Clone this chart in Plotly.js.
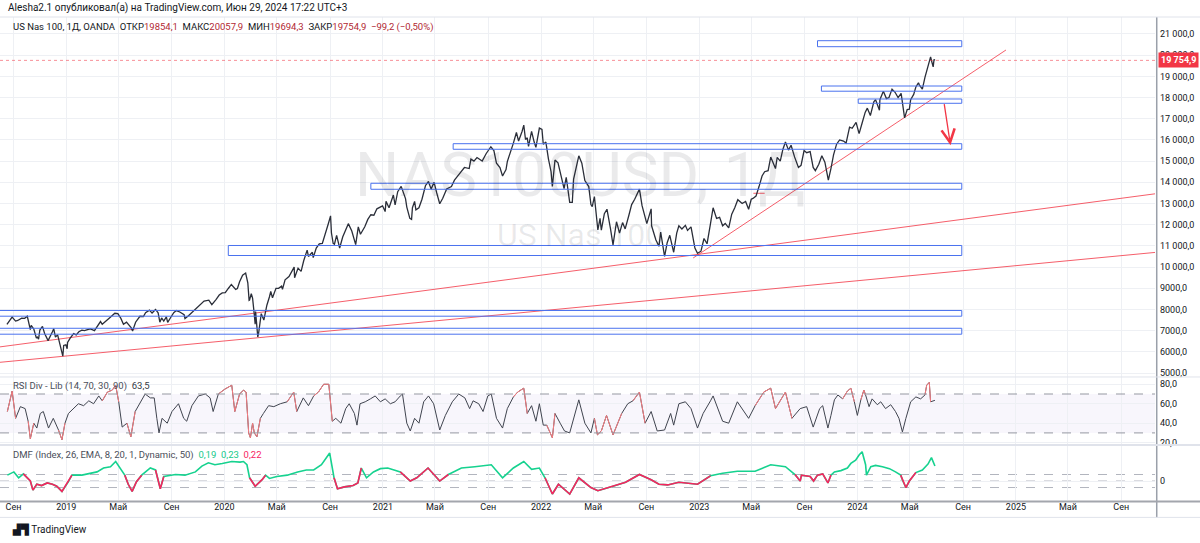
<!DOCTYPE html>
<html><head><meta charset="utf-8">
<script src="https://cdn.plot.ly/plotly-3.0.1.min.js"></script>
<style>html,body{margin:0;padding:0;background:#fff}#chart{width:1200px;height:543px}</style>
</head><body><div id="chart"></div>
<script>
// ---------- price (close) ----------
const priceDates = [
'2018-08-17','2018-08-22','2018-08-29','2018-09-06','2018-09-11','2018-09-20','2018-09-27','2018-10-03','2018-10-10','2018-10-12','2018-10-18','2018-10-24','2018-10-26','2018-10-29','2018-11-01','2018-11-07','2018-11-12','2018-11-20','2018-11-26','2018-11-30','2018-12-03','2018-12-07','2018-12-12','2018-12-18','2018-12-21','2018-12-24','2018-12-26','2018-12-31',
'2019-01-03','2019-01-04','2019-01-10','2019-01-18','2019-01-24','2019-01-30','2019-02-06','2019-02-12','2019-02-19','2019-02-26','2019-03-07','2019-03-15','2019-03-21','2019-03-25','2019-04-03','2019-04-12','2019-04-23','2019-04-30','2019-05-07','2019-05-13','2019-05-20','2019-05-31','2019-06-03','2019-06-10','2019-06-20','2019-06-28','2019-07-03','2019-07-12','2019-07-18','2019-07-26','2019-08-01','2019-08-05','2019-08-09','2019-08-14','2019-08-20','2019-08-23','2019-08-30','2019-09-06','2019-09-12','2019-09-20','2019-09-30','2019-10-02','2019-10-10','2019-10-18','2019-10-28','2019-11-06','2019-11-15','2019-11-26','2019-12-03','2019-12-13','2019-12-20','2019-12-27',
'2020-01-03','2020-01-10','2020-01-17','2020-01-27','2020-01-31','2020-02-05','2020-02-12','2020-02-19','2020-02-24','2020-02-27','2020-02-28','2020-03-03','2020-03-06','2020-03-09','2020-03-12','2020-03-13','2020-03-16','2020-03-18','2020-03-20','2020-03-24','2020-03-26','2020-04-01','2020-04-08','2020-04-14','2020-04-17','2020-04-21','2020-04-29','2020-05-05','2020-05-12','2020-05-14','2020-05-20','2020-05-29','2020-06-05','2020-06-10','2020-06-11','2020-06-19','2020-06-26','2020-07-02','2020-07-10','2020-07-13','2020-07-22','2020-07-24','2020-07-31','2020-08-07','2020-08-14','2020-08-21','2020-08-28','2020-09-02','2020-09-04','2020-09-08','2020-09-11','2020-09-16','2020-09-23','2020-09-30','2020-10-09','2020-10-13','2020-10-21','2020-10-28','2020-10-30','2020-11-05','2020-11-10','2020-11-20','2020-11-27','2020-12-04','2020-12-11','2020-12-18','2020-12-24','2020-12-31',
'2021-01-06','2021-01-08','2021-01-15','2021-01-25','2021-01-29','2021-02-04','2021-02-12','2021-02-22','2021-02-25','2021-03-04','2021-03-08','2021-03-10','2021-03-15','2021-03-18','2021-03-25','2021-04-01','2021-04-09','2021-04-16','2021-04-22','2021-04-29','2021-05-05','2021-05-12','2021-05-19','2021-05-28','2021-06-08','2021-06-15','2021-06-25','2021-07-01','2021-07-08','2021-07-19','2021-07-23','2021-07-30','2021-08-06','2021-08-18','2021-08-27','2021-09-07','2021-09-14','2021-09-20','2021-09-28','2021-10-04','2021-10-12','2021-10-15','2021-10-22','2021-10-29','2021-11-05','2021-11-10','2021-11-18','2021-11-22','2021-11-26','2021-11-30','2021-12-03','2021-12-10','2021-12-16','2021-12-20','2021-12-28',
'2022-01-03','2022-01-06','2022-01-12','2022-01-18','2022-01-24','2022-01-27','2022-02-02','2022-02-09','2022-02-14','2022-02-23','2022-02-28','2022-03-08','2022-03-14','2022-03-17','2022-03-29','2022-04-05','2022-04-12','2022-04-21','2022-04-26','2022-04-29','2022-05-04','2022-05-09','2022-05-12','2022-05-17','2022-05-20','2022-05-27','2022-06-02','2022-06-10','2022-06-16','2022-06-24','2022-07-01','2022-07-08','2022-07-14','2022-07-22','2022-07-29','2022-08-05','2022-08-16','2022-08-22','2022-08-29','2022-09-02','2022-09-12','2022-09-13','2022-09-23','2022-09-30','2022-10-04','2022-10-13','2022-10-19','2022-10-25','2022-11-03','2022-11-10','2022-11-15','2022-11-22','2022-11-30','2022-12-05','2022-12-13','2022-12-22','2022-12-28',
'2023-01-05','2023-01-12','2023-01-19','2023-01-27','2023-02-02','2023-02-10','2023-02-17','2023-02-24','2023-03-02','2023-03-10','2023-03-17','2023-03-24','2023-03-31','2023-04-10','2023-04-18','2023-04-25','2023-05-01','2023-05-05','2023-05-12','2023-05-19','2023-05-26','2023-06-01','2023-06-09','2023-06-15','2023-06-26','2023-06-30','2023-07-07','2023-07-13','2023-07-19','2023-07-26','2023-08-01','2023-08-09','2023-08-18','2023-08-24','2023-08-31','2023-09-06','2023-09-14','2023-09-21','2023-09-26','2023-10-04','2023-10-11','2023-10-18','2023-10-26','2023-11-01','2023-11-07','2023-11-14','2023-11-21','2023-11-30','2023-12-06','2023-12-14','2023-12-20','2023-12-29',
'2024-01-05','2024-01-12','2024-01-19','2024-01-24','2024-01-31','2024-02-08','2024-02-12','2024-02-21','2024-02-22','2024-03-01','2024-03-08','2024-03-14','2024-03-21','2024-03-28','2024-04-04','2024-04-11','2024-04-15','2024-04-19','2024-04-25','2024-04-30','2024-05-03','2024-05-10','2024-05-15','2024-05-21','2024-05-23','2024-05-30','2024-06-05','2024-06-12','2024-06-14','2024-06-18','2024-06-20','2024-06-24','2024-06-26','2024-06-28'];
const priceValues = [
7300,7420,7640,7450,7480,7590,7580,7680,7050,7250,7080,6650,6700,6600,7030,7200,6870,6530,6750,6950,7090,6700,6800,6350,6080,5800,6300,6330,
6150,6440,6650,6860,6800,6950,7020,7000,7050,7080,7000,7260,7430,7300,7480,7620,7820,7800,7580,7300,7400,7130,6980,7400,7680,7670,7850,7970,7830,8000,7840,7400,7600,7450,7650,7390,7620,7850,7950,7880,7750,7570,7700,7850,8020,8200,8400,8440,8230,8480,8680,8780,
8790,8990,9180,8950,8990,9310,9620,9720,9260,8430,8440,8750,8530,7950,7300,7900,6950,6700,6890,7560,7800,7500,8200,8600,8850,8550,9000,9000,9100,8950,9400,9550,9830,10000,9500,9950,9800,10300,10800,10500,10700,10450,10900,11100,11120,11650,12060,12420,11620,11120,11080,11500,10900,11420,11880,12050,11700,11200,11060,11900,11550,11900,12250,12470,12450,12750,12800,12890,
12620,13100,12800,13400,12930,13560,13810,13230,12830,12300,12250,12800,13100,12700,12800,13200,13840,14040,13680,14000,13500,12990,13250,13690,13800,14100,14360,14520,14700,14650,15100,15000,15170,15000,15350,15680,15500,14900,14700,14300,14600,14980,15400,15850,16350,15950,16400,16700,16020,16100,15700,16400,15900,15650,16560,
16500,15800,15900,15100,14500,13800,15050,14920,14440,13700,14230,13050,13050,14150,15250,14900,14080,13800,12950,12850,13330,12180,11750,12300,11740,12520,12730,11830,11050,12140,11600,12100,11800,12400,12950,13200,13680,12900,12400,12050,12750,11950,11280,10980,11650,10500,11150,11500,10700,11600,11950,11800,11970,11730,11900,10900,10650,
10750,11350,11100,12050,12800,12300,12350,11950,12060,11850,12500,12800,13180,13000,13100,12730,13200,13240,13350,13800,14300,14500,14550,15190,14650,15180,15000,15550,15900,15520,15750,15200,14700,14800,15500,15400,15450,14700,14550,14850,15250,14950,14100,14650,15300,15800,16000,15950,15850,16600,16550,16830,
16300,16800,17300,17500,17150,17800,17900,17400,17900,18300,17950,18000,18400,18250,18000,18200,17700,17040,17430,17450,17900,18150,18500,18700,18600,18400,18950,19450,19650,19920,19750,19450,19800,19754.9];

// ---------- RSI (14) ----------
const rsiDates = ['2018-08-18','2018-08-29','2018-09-06','2018-09-17','2018-09-28','2018-10-05','2018-10-10','2018-10-18','2018-10-25','2018-11-02','2018-11-09','2018-11-21','2018-12-02','2018-12-14','2018-12-22','2018-12-29',
'2019-01-06','2019-01-18','2019-01-29','2019-02-10','2019-02-22','2019-03-05','2019-03-17','2019-03-25','2019-04-06','2019-04-17','2019-04-25','2019-05-02','2019-05-10','2019-05-21','2019-05-30','2019-06-09','2019-06-21','2019-07-02','2019-07-14','2019-07-23','2019-07-29','2019-08-03','2019-08-10','2019-08-22','2019-09-02','2019-09-17','2019-09-29','2019-10-06','2019-10-18','2019-11-02','2019-11-18','2019-11-29','2019-12-06','2019-12-18',
'2020-01-02','2020-01-18','2020-01-25','2020-02-05','2020-02-14','2020-02-20','2020-02-26','2020-03-01','2020-03-06','2020-03-10','2020-03-16','2020-03-24','2020-03-31','2020-04-12','2020-04-24','2020-05-09','2020-05-25','2020-06-09','2020-06-16','2020-07-01','2020-07-13','2020-07-25','2020-08-05','2020-08-17','2020-08-29','2020-09-06','2020-09-14','2020-09-26','2020-10-07','2020-10-15','2020-10-27','2020-11-02','2020-11-09','2020-11-21','2020-12-03','2020-12-14','2020-12-26',
'2021-01-06','2021-01-18','2021-01-29','2021-02-10','2021-02-15','2021-02-25','2021-03-05','2021-03-15','2021-03-25','2021-04-05','2021-04-16','2021-04-28','2021-05-12','2021-05-25','2021-06-10','2021-06-25','2021-07-09','2021-07-20','2021-07-28','2021-08-10','2021-08-20','2021-08-31','2021-09-08','2021-09-20','2021-10-04','2021-10-15','2021-10-29','2021-11-08','2021-11-22','2021-11-30','2021-12-10','2021-12-20','2021-12-28',
'2022-01-06','2022-01-14','2022-01-27','2022-02-02','2022-02-14','2022-02-24','2022-03-08','2022-03-29','2022-04-12','2022-04-26','2022-05-04','2022-05-11','2022-05-20','2022-06-01','2022-06-16','2022-07-06','2022-07-20','2022-08-01','2022-08-16','2022-08-29','2022-09-12','2022-09-26','2022-10-13','2022-10-27','2022-11-03','2022-11-15','2022-11-30','2022-12-13','2022-12-28',
'2023-01-10','2023-01-27','2023-02-02','2023-02-24','2023-03-10','2023-03-30','2023-04-25','2023-05-10','2023-05-30','2023-06-15','2023-06-26','2023-07-19','2023-08-03','2023-08-22','2023-09-06','2023-09-21','2023-10-06','2023-10-13','2023-10-25','2023-11-01','2023-11-09','2023-11-17','2023-11-28','2023-12-09','2023-12-17','2023-12-25',
'2024-01-01','2024-01-09','2024-01-16','2024-01-20','2024-01-28','2024-02-04','2024-02-16','2024-02-24','2024-03-06','2024-03-18','2024-03-29','2024-04-06','2024-04-14','2024-04-22','2024-05-03','2024-05-15','2024-05-26','2024-06-05','2024-06-09','2024-06-15','2024-06-18','2024-06-28'];
const rsiValues = [52,73,45,57,55,42,24,40,35,50,52,35,45,33,23,40,
50,55,60,58,63,60,68,63,72,74,79,62,36,40,26,52,62,70,66,66,45,30,45,40,52,60,45,42,58,68,70,66,52,70,
75,79,52,70,74,72,30,25,40,30,26,45,50,58,57,60,62,72,52,66,58,68,72,80,80,42,45,40,55,60,50,38,60,62,65,68,62,
65,60,62,68,70,40,32,45,40,62,68,60,33,48,62,70,66,55,63,60,52,68,70,45,35,55,67,72,76,50,58,42,60,
38,38,25,50,40,32,30,64,40,30,45,28,32,48,28,50,60,63,72,40,52,32,33,50,38,60,62,55,35,
50,63,68,42,40,62,45,58,72,76,55,72,45,55,57,36,55,58,35,48,64,69,65,73,76,62,
48,64,74,69,57,65,59,62,55,59,52,45,31,45,62,67,65,69,79,82,62,63.5];

// ---------- DMF ----------
const dmfDates = ['2018-08-18','2018-09-02','2018-09-13','2018-09-24','2018-10-10','2018-10-16','2018-10-25','2018-11-05','2018-11-18','2018-11-30','2018-12-10','2018-12-22',
'2019-01-06','2019-01-14','2019-02-06','2019-02-22','2019-03-13','2019-03-28','2019-04-13','2019-04-25','2019-05-06','2019-05-16','2019-05-24','2019-06-02','2019-06-12','2019-06-24','2019-07-14','2019-07-26','2019-08-06','2019-08-14','2019-09-10','2019-10-02','2019-10-26','2019-11-10','2019-11-25','2019-12-10','2019-12-27',
'2020-01-18','2020-02-06','2020-02-14','2020-02-22','2020-02-28','2020-03-12','2020-03-28','2020-04-05','2020-04-14','2020-05-01','2020-05-25','2020-06-18','2020-07-08','2020-07-25','2020-08-12','2020-08-31','2020-09-04','2020-09-10','2020-09-18','2020-10-04','2020-10-24','2020-11-04','2020-11-12','2020-11-24','2020-12-10','2020-12-26',
'2021-01-12','2021-02-10','2021-03-05','2021-03-20','2021-04-15','2021-05-12','2021-06-01','2021-07-01','2021-08-01','2021-09-08','2021-10-04','2021-10-29','2021-11-22','2021-12-10','2021-12-28',
'2022-01-10','2022-01-27','2022-02-10','2022-03-08','2022-03-29','2022-04-26','2022-05-12','2022-06-16','2022-07-15','2022-08-16','2022-09-12','2022-09-30','2022-10-20','2022-11-15','2022-12-28',
'2023-01-27','2023-02-24','2023-03-30','2023-05-10','2023-06-15','2023-07-19','2023-08-10','2023-08-22','2023-08-25','2023-09-14','2023-09-22','2023-10-01','2023-10-13','2023-10-25','2023-11-01','2023-11-09','2023-11-24','2023-12-09','2023-12-17','2023-12-28',
'2024-01-05','2024-01-12','2024-01-20','2024-01-22','2024-02-01','2024-02-12','2024-02-28','2024-03-15','2024-03-29','2024-04-10','2024-04-15','2024-04-22','2024-04-30','2024-05-15','2024-05-30','2024-06-12','2024-06-20','2024-06-28'];
const dmfValues = [0.09,0.14,0.05,0.11,0.0,-0.14,-0.05,-0.07,-0.03,-0.05,-0.08,-0.16,
-0.01,0.09,0.09,0.11,0.14,0.2,0.22,0.3,0.2,0.09,-0.05,-0.16,-0.01,0.09,0.2,0.17,-0.12,0.07,0.1,0.09,0.14,0.23,0.28,0.25,0.27,
0.3,0.29,0.3,0.25,0.05,-0.08,0.02,0.09,0.04,0.07,0.09,0.14,0.17,0.17,0.25,0.43,0.25,0.05,-0.12,-0.09,-0.07,-0.03,0.2,0.05,0.14,0.19,
0.2,0.14,0.0,0.05,0.2,0.0,0.1,0.2,0.22,0.25,0.05,0.2,0.3,0.18,0.2,
0.05,-0.2,-0.05,-0.2,0.05,-0.1,-0.15,-0.08,-0.02,0.1,0.02,-0.05,-0.06,-0.02,-0.05,
0.08,0.12,0.15,0.15,0.25,0.22,0.1,0.0,0.09,0.07,0.0,0.09,0.11,-0.03,0.09,0.14,0.16,0.2,0.27,0.32,
0.4,0.45,0.25,0.09,0.22,0.24,0.22,0.19,0.14,0.09,0.0,-0.1,0.0,0.13,0.17,0.26,0.36,0.23];

// ---------- drawn zones (rectangles) ----------
const zoneStart = ['2023-10-01','2023-10-10','2024-01-03','2021-06-12','2020-12-04','2020-01-10','2018-07-01','2018-07-01'];
const zoneEnd   = ['2024-08-29','2024-08-29','2024-08-29','2024-08-29','2024-08-29','2024-08-29','2024-08-29','2024-08-29'];
const zoneLow   = [20401,18300,17730,15560,13672,10547,7683,6833];
const zoneHigh  = [20684,18546,17933,15823,13955,11019,7952,7112];

// ---------- trend lines ----------
const trendStartDate  = ['2022-12-18','2018-08-01','2018-08-01','2023-05-06'];
const trendStartValue = [10430,6234,5507,13483];
const trendEndDate    = ['2024-12-09','2026-03-01','2026-03-01','2023-06-01'];
const trendEndValue   = [20245,13737,10892,13483];

// arrow (tail -> head)
const arrowTail = ['2024-07-19',17758];
const arrowHead = ['2024-08-03',15748];

// ---------- tick labels ----------
const priceTickValues = [5000,6000,7000,8000,9000,10000,11000,12000,13000,14000,15000,16000,17000,18000,19000,20000,21000];
const priceTickLabels = ['5000,0','6000,0','7000,0','8000,0','9000,0','10 000,0','11 000,0','12 000,0','13 000,0','14 000,0','15 000,0','16 000,0','17 000,0','18 000,0','19 000,0','20 000,0','21 000,0'];
const rsiTickValues = [20,40,60,80];
const rsiTickLabels = ['20,0','40,0','60,0','80,0'];
const dmfTickValues = [0];
const dmfTickLabels = ['0'];
const timeTickValues = ['2018-09-01','2019-01-01','2019-05-01','2019-09-01','2020-01-01','2020-05-01','2020-09-01','2021-01-01','2021-05-01','2021-09-01','2022-01-01','2022-05-01','2022-09-01','2023-01-01','2023-05-01','2023-09-01','2024-01-01','2024-05-01','2024-09-01','2025-01-01','2025-05-01','2025-09-01'];
const timeTickLabels = ['Сен','2019','Май','Сен','2020','Май','Сен','2021','Май','Сен','2022','Май','Сен','2023','Май','Сен','2024','Май','Сен','2025','Май','Сен'];

const lastClose = priceValues[priceValues.length-1];
const lastCloseLabel = '19 754,9';

// ---------- helpers ----------
function highlight(vals, test){
  return vals.map((v,i)=> (test(v) || (i>0 && test(vals[i-1])) || (i<vals.length-1 && test(vals[i+1]))) ? v : null);
}
const FONT = 'Roboto, "Liberation Sans", Arial, sans-serif';
const GRID = '#eef0f4';

const traces = [];
for (let i=0;i<trendStartDate.length;i++){
  traces.push({x:[trendStartDate[i],trendEndDate[i]], y:[trendStartValue[i],trendEndValue[i]], type:'scatter', mode:'lines',
    line:{color:'rgba(242,54,69,0.8)', width:1}, xaxis:'x', yaxis:'y', hoverinfo:'skip', showlegend:false});
}
traces.push({x:priceDates, y:priceValues, type:'scatter', mode:'lines', line:{color:'#2a2e39', width:1.3}, xaxis:'x', yaxis:'y', showlegend:false});
traces.push({x:rsiDates, y:rsiValues, type:'scatter', mode:'lines', line:{color:'#40444f', width:1}, xaxis:'x', yaxis:'y2', showlegend:false});
traces.push({x:rsiDates, y:highlight(rsiValues, v=>v>70||v<30), type:'scatter', mode:'lines', line:{color:'#f77c80', width:1}, xaxis:'x', yaxis:'y2', showlegend:false, connectgaps:false});
traces.push({x:dmfDates, y:dmfValues, type:'scatter', mode:'lines', line:{color:'#16d28f', width:1.6}, xaxis:'x', yaxis:'y3', showlegend:false});
traces.push({x:dmfDates, y:highlight(dmfValues, v=>v<0.04), type:'scatter', mode:'lines', line:{color:'#f7245f', width:1.6}, xaxis:'x', yaxis:'y3', showlegend:false, connectgaps:false});

const shapes = [];
for (let i=0;i<zoneStart.length;i++){
  shapes.push({type:'rect', xref:'x', yref:'y', x0:zoneStart[i], x1:zoneEnd[i], y0:zoneLow[i], y1:zoneHigh[i],
    line:{color:'#4a72ee', width:1}, fillcolor:'rgba(0,0,0,0)'});
}
shapes.push({type:'rect', xref:'paper', yref:'y2', x0:0, x1:1, y0:30, y1:70, fillcolor:'rgba(126,87,194,0.05)', line:{width:0}, layer:'below'});
[70,30].forEach(l=>shapes.push({type:'line', xref:'paper', yref:'y2', x0:0, x1:1, y0:l, y1:l, line:{color:'#9598a1', width:1, dash:'dash'}}));
[0.1,0,-0.1].forEach(l=>shapes.push({type:'line', xref:'paper', yref:'y3', x0:0, x1:1, y0:l, y1:l, line:{color:'#b2b5be', width:1, dash:'dash'}, layer:'below'}));
shapes.push({type:'line', xref:'paper', yref:'y', x0:0, x1:1, y0:lastClose, y1:lastClose, line:{color:'rgba(242,54,69,0.55)', width:1, dash:'dot'}});
shapes.push({type:'line', xref:'paper', yref:'paper', x0:1.0015, x1:1.0015, y0:-0.036, y1:1, line:{color:'#9aa0aa', width:1.5}});
shapes.push({type:'line', xref:'paper', yref:'paper', x0:0, x1:1.04, y0:-0.003, y1:-0.003, line:{color:'#a3a6ad', width:2}});
shapes.push({type:'line', xref:'paper', yref:'paper', x0:0, x1:1.04, y0:-0.036, y1:-0.036, line:{color:'#e0e3eb', width:1}});
shapes.push({type:'line', xref:'paper', yref:'paper', x0:0, x1:1.04, y0:1, y1:1, line:{color:'#e0e3eb', width:1}});
shapes.push({type:'line', xref:'paper', yref:'paper', x0:0, x1:1.04, y0:0.2547, y1:0.2547, line:{color:'#e0e3eb', width:1}});
shapes.push({type:'line', xref:'paper', yref:'paper', x0:0, x1:1.04, y0:0.1139, y1:0.1139, line:{color:'#e0e3eb', width:2}});

const annotations = [
  {xref:'paper', yref:'paper', x:0.005, y:1.0186, xanchor:'left', yanchor:'middle', showarrow:false,
   text:'Alesha2.1 опубликовал(а) на TradingView.com, Июн 29, 2024 17:22 UTC+3', font:{family:FONT, size:10, color:'#131722'}},
  {xref:'paper', yref:'paper', x:0.0095, y:0.9793, xanchor:'left', yanchor:'middle', showarrow:false,
   text:'US Nas 100, 1Д, OANDA  ОТКР<span style="color:#b22833">19854,1</span>  МАКС<span style="color:#b22833">20057,9</span>  МИН<span style="color:#b22833">19694,3</span>  ЗАКР<span style="color:#b22833">19754,9  −99,2 (−0,50%)</span>',
   font:{family:FONT, size:9.5, color:'#131722'}},
  {xref:'paper', yref:'paper', x:0.0095, y:0.236, xanchor:'left', yanchor:'middle', showarrow:false,
   text:'RSI Div - Lib (14, 70, 30, 90)  <span style="color:#363a45">63,5</span>', font:{family:FONT, size:9.5, color:'#4a4e59'}},
  {xref:'paper', yref:'paper', x:0.0095, y:0.0932, xanchor:'left', yanchor:'middle', showarrow:false,
   text:'DMF (Index, 26, EMA, 8, 20, 1, Dynamic, 50)  <span style="color:#16c98a">0,19</span>  <span style="color:#16c98a">0,23</span>  <span style="color:#f7245f">0,22</span>', font:{family:FONT, size:9.5, color:'#4a4e59'}},
  {xref:'paper', yref:'paper', x:0.502, y:0.673, xanchor:'center', yanchor:'middle', showarrow:false,
   text:'NAS100USD, 1Д', font:{family:FONT, size:62, color:'rgba(19,23,34,0.09)'}},
  {xref:'paper', yref:'paper', x:0.502, y:0.5487, xanchor:'center', yanchor:'middle', showarrow:false,
   text:'US Nas 100', font:{family:FONT, size:32, color:'rgba(19,23,34,0.09)'}},
  {xref:'paper', yref:'y', x:1.0025, y:lastClose, xanchor:'left', yanchor:'middle', showarrow:false,
   text:'<b>'+lastCloseLabel+'</b>', bgcolor:'#f23645', borderpad:2, font:{family:FONT, size:9, color:'#ffffff'}},
  {xref:'x', yref:'y', axref:'x', ayref:'y', x:arrowHead[0], y:arrowHead[1], ax:arrowTail[0], ay:arrowTail[1], showarrow:true,
   arrowhead:5, arrowsize:2, arrowwidth:1.3, arrowcolor:'#f23645', text:''},
  {xref:'paper', yref:'paper', x:0.0085, y:-0.062, xanchor:'left', yanchor:'middle', showarrow:false,
   text:'<b>▟▜</b> TradingView', font:{family:FONT, size:10, color:'#131722'}}
];

const layout = {
  width:1200, height:543,
  margin:{l:0, r:45, t:17, b:43},
  paper_bgcolor:'#ffffff', plot_bgcolor:'#ffffff',
  showlegend:false,
  separators:', ',
  font:{family:FONT, color:'#131722', size:9},
  xaxis:{type:'date', range:['2018-08-01','2025-11-18'], anchor:'y3', tickvals:timeTickValues, ticktext:timeTickLabels,
    showgrid:true, gridcolor:GRID, gridwidth:1, zeroline:false, ticks:'', tickfont:{size:9, color:'#131722'}, showline:false, fixedrange:true},
  yaxis:{domain:[0.2547,1], range:[4814,21802], side:'right', anchor:'x', tickvals:priceTickValues, ticktext:priceTickLabels,
    showgrid:true, gridcolor:GRID, zeroline:false, ticks:'', tickfont:{size:9, color:'#131722'}, ticklabelstandoff:4},
  yaxis2:{domain:[0.1139,0.2547], range:[17.6,87.5], side:'right', anchor:'x', tickvals:rsiTickValues, ticktext:rsiTickLabels,
    showgrid:true, gridcolor:GRID, zeroline:false, ticks:'', tickfont:{size:9, color:'#131722'}, ticklabelstandoff:4},
  yaxis3:{domain:[0,0.1139], range:[-0.292,0.554], side:'right', anchor:'x', tickvals:dmfTickValues, ticktext:dmfTickLabels,
    showgrid:true, gridcolor:GRID, zeroline:false, ticks:'', tickfont:{size:9, color:'#131722'}, ticklabelstandoff:4},
  shapes:shapes, annotations:annotations
};
Plotly.newPlot('chart', traces, layout, {staticPlot:true, displayModeBar:false});
</script></body></html>
